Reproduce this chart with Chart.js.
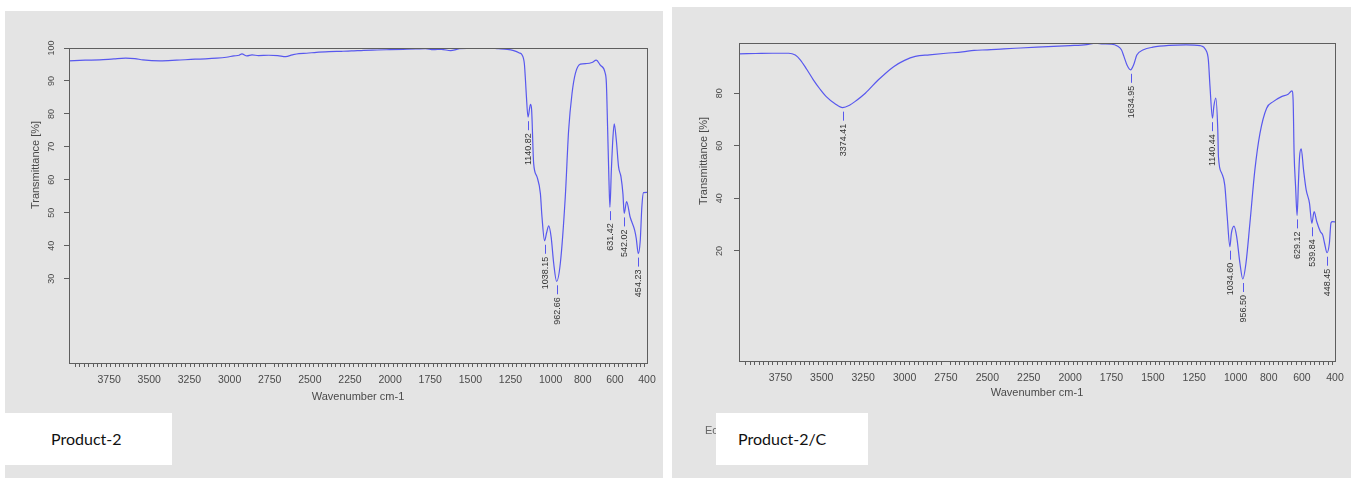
<!DOCTYPE html>
<html>
<head>
<meta charset="utf-8">
<title>FTIR - Product-2 / Product-2/C</title>
<script src="https://cdn.jsdelivr.net/npm/chart.js@4.4.1/dist/chart.umd.min.js"></script>
<style>
  html, body { margin: 0; padding: 0; background: #fff; }
  body { width: 1351px; height: 478px; position: relative; overflow: hidden; }
  .panel { position: absolute; background: #e4e4e4; }
  .panel canvas { display: block; }
  .tag { position: absolute; background: #fff; height: 52px; line-height: 52px;
         font-family: Lato, "Open Sans", sans-serif; font-size: 16px; color: #111; }
  .ec { position: absolute; font: 11px "Liberation Sans", Arial, sans-serif; color: #666; }
</style>
</head>
<body>
<div class="panel" style="left:5px;top:11px;width:658px;height:467px"><canvas id="chartP2" width="658" height="467"></canvas></div>
<div class="panel" style="left:672px;top:7px;width:679px;height:471px"><canvas id="chartP2C" width="679" height="471"></canvas></div>
<div class="tag" style="left:5px;top:413px;width:121px;padding-left:46px">Product-2</div>
<div class="ec" style="left:705px;top:424px">Ec</div>
<div class="tag" style="left:716px;top:413px;width:130px;padding-left:22px">Product-2/C</div>

<script>
// labelled wavenumbers on the x axis
const xTickLabels = [3750, 3500, 3250, 3000, 2750, 2500, 2250, 2000, 1750, 1500, 1250, 1000, 800, 600, 400];

// Product-2 spectrum (wavenumber cm-1 / transmittance %)
const p2Wave = [4000, 3900, 3809, 3720, 3647, 3590, 3540, 3433, 3330, 3215, 3150, 3080, 3020, 2973, 2940, 2923,
  2892, 2860, 2820, 2756, 2700, 2650, 2610, 2568, 2520, 2459, 2380, 2300, 2240, 2164, 2080, 2000, 1920, 1840,
  1780, 1731, 1680, 1623, 1590, 1569, 1520, 1461, 1400, 1326, 1270, 1230, 1195, 1178, 1164, 1157, 1151, 1141,
  1126, 1119, 1106, 1085, 1064, 1054, 1038, 1025, 1012, 997, 981, 963, 940, 909, 888, 867, 846, 815, 774, 743,
  716, 691, 660, 653, 645, 637, 631, 622, 612, 604, 591, 577, 562, 550, 542, 527, 505, 477, 467, 454, 442, 432,
  422, 400];
const p2Trans = [96.1, 96.3, 96.4, 96.7, 96.9, 96.8, 96.4, 96.1, 96.3, 96.6, 96.7, 96.9, 97.2, 97.6, 97.8, 98.2,
  97.6, 97.9, 97.7, 97.8, 97.7, 97.4, 97.9, 98.3, 98.4, 98.7, 98.9, 99.0, 99.1, 99.3, 99.4, 99.5, 99.6, 99.7,
  99.8, 99.5, 99.6, 99.2, 99.5, 99.8, 99.9, 99.9, 100.0, 99.8, 99.6, 99.2, 98.5, 97.9, 95.3, 90.3, 85.2, 79.0,
  82.9, 81.5, 65.0, 60.9, 55.8, 48.7, 41.5, 44.0, 46.0, 42.6, 34.6, 29.2, 34.6, 54.8, 75.1, 86.2, 92.3, 95.1,
  95.3, 95.6, 96.3, 94.8, 92.3, 89.3, 75.1, 59.9, 51.7, 62.9, 73.0, 77.0, 72.0, 63.9, 60.9, 55.8, 49.8, 53.4,
  48.7, 44.7, 42.2, 37.6, 41.6, 51.8, 56.1, 56.2];
const p2PeakWave = [1140.82, 1038.15, 962.66, 631.42, 542.02, 454.23];
const p2PeakTrans = [79.0, 41.5, 29.2, 51.7, 49.8, 37.6];
const p2YTicks = [100, 90, 80, 70, 60, 50, 40, 30];

// Product-2/C spectrum
const p2cWave = [4000, 3900, 3800, 3700, 3660, 3630, 3590, 3551, 3510, 3473, 3420, 3374, 3330, 3300, 3237, 3158,
  3066, 3000, 2935, 2850, 2750, 2650, 2580, 2500, 2400, 2300, 2200, 2100, 2000, 1900, 1845, 1800, 1750, 1715,
  1690, 1675, 1655, 1635, 1615, 1597, 1557, 1500, 1400, 1300, 1215, 1181, 1165, 1155, 1140, 1132, 1120, 1108,
  1104, 1084, 1066, 1051, 1035, 1026, 1010, 994, 974, 957, 938, 914, 884, 853, 813, 773, 723, 683, 660, 653,
  647, 638, 629, 621, 614, 604, 590, 574, 554, 540, 526, 510, 488, 474, 463, 448, 434, 424, 414, 400];
const p2cTrans = [95.0, 95.1, 95.2, 95.2, 94.5, 92.7, 89.0, 85.1, 81.5, 78.7, 76.0, 74.5, 75.5, 76.8, 80.0, 85.1,
  90.1, 92.5, 94.0, 94.6, 95.2, 95.7, 96.3, 96.5, 96.9, 97.2, 97.5, 97.8, 98.1, 98.5, 99.0, 98.8, 98.7, 98.0,
  96.5, 94.0, 90.5, 88.9, 91.0, 94.5, 96.5, 97.5, 98.2, 98.4, 98.1, 96.5, 92.7, 82.5, 70.5, 74.9, 78.1, 66.0,
  55.8, 49.5, 45.1, 33.0, 21.6, 26.7, 29.4, 25.4, 15.2, 9.3, 15.2, 30.5, 50.8, 64.8, 74.3, 76.8, 78.7, 79.6,
  80.9, 77.4, 57.1, 44.4, 33.5, 45.7, 55.8, 58.8, 50.8, 43.2, 38.1, 30.5, 34.9, 31.1, 27.3, 26.0, 22.9, 19.3,
  22.9, 30.7, 31.1, 31.0];
const p2cPeakWave = [3374.41, 1634.95, 1140.44, 1034.60, 956.50, 629.12, 539.84, 448.45];
const p2cPeakTrans = [74.5, 88.9, 70.5, 21.6, 9.3, 33.5, 30.5, 19.3];
const p2cYTicks = [80, 60, 40, 20];

const LINE_BLUE = '#5858ee';
const AXIS_GREY = '#5e5e5e';
const TEXT_GREY = '#4a4a4a';
const FONT = '"Liberation Sans", Arial, sans-serif';

Chart.defaults.font.family = FONT;

// small unlabelled tick marks along the wavenumber axis (skip the labelled spots)
const minorTicks = [];
for (let w = 3960; w >= 400; w -= 27.5) {
  if (!xTickLabels.includes(w)) minorTicks.push(w);
}

// frame, peak markers and the off-centre y title
const spectrumMarks = {
  id: 'spectrumMarks',
  afterDraw(chart, args, opts) {
    const { ctx, chartArea: area, scales: { x, y } } = chart;
    ctx.save();
    ctx.strokeStyle = AXIS_GREY;
    ctx.lineWidth = 1;
    ctx.strokeRect(Math.round(area.left) + 0.5, Math.round(area.top) + 0.5,
      Math.round(area.right - area.left), Math.round(area.bottom - area.top));

    ctx.font = '9px ' + FONT;
    ctx.fillStyle = '#333';
    ctx.strokeStyle = LINE_BLUE;
    opts.peaks.forEach((w, i) => {
      const px = Math.round(x.getPixelForValue(w)) + 0.5;
      const py = y.getPixelForValue(opts.peakTrans[i]);
      ctx.beginPath();
      ctx.moveTo(px, py + 4);
      ctx.lineTo(px, py + 13);
      ctx.stroke();
      ctx.save();
      ctx.translate(px, py + 16);
      ctx.rotate(-Math.PI / 2);
      ctx.textAlign = 'right';
      ctx.textBaseline = 'middle';
      ctx.fillText(w.toFixed(2), 0, 0);
      ctx.restore();
    });

    ctx.translate(area.left - opts.titleGap, y.getPixelForValue(opts.titleAt));
    ctx.rotate(-Math.PI / 2);
    ctx.font = '11px ' + FONT;
    ctx.fillStyle = TEXT_GREY;
    ctx.textAlign = 'center';
    ctx.textBaseline = 'middle';
    ctx.fillText('Transmittance [%]', 0, 0);
    ctx.restore();
  }
};

function spectrumChart(canvasId, cfg) {
  const ctx = document.getElementById(canvasId).getContext('2d');
  const xTicks = minorTicks.concat(xTickLabels);
  return new Chart(ctx, {
    type: 'line',
    data: {
      datasets: [{
        data: cfg.wave.map((w, i) => ({ x: w, y: cfg.trans[i] })),
        borderColor: LINE_BLUE,
        borderWidth: 1.2,
        pointRadius: 0,
        fill: false,
        cubicInterpolationMode: 'monotone'
      }]
    },
    options: {
      responsive: false,
      animation: false,
      layout: { padding: cfg.padding },
      plugins: {
        legend: { display: false },
        tooltip: { enabled: false },
        spectrumMarks: { peaks: cfg.peaks, peakTrans: cfg.peakTrans, titleAt: cfg.titleAt, titleGap: cfg.titleGap }
      },
      scales: {
        x: {
          type: 'linear',
          reverse: true,
          min: 400,
          max: 4000,
          afterBuildTicks: s => { s.ticks = xTicks.map(v => ({ value: v })); },
          afterFit: s => { s.height = 45; },
          ticks: {
            autoSkip: false, maxRotation: 0, minRotation: 0, padding: 7,
            color: TEXT_GREY, font: { size: 10.5 },
            callback: v => xTickLabels.includes(v) ? String(v) : ''
          },
          grid: {
            drawOnChartArea: false, tickLength: 4, lineWidth: 1,
            tickColor: c => (c.tick && xTickLabels.includes(c.tick.value)) ? 'rgba(0,0,0,0)' : AXIS_GREY
          },
          border: { display: false },
          title: {
            display: true, text: 'Wavenumber cm-1', color: TEXT_GREY,
            font: { size: 11 }, padding: { top: 0, bottom: cfg.xTitlePad }
          }
        },
        y: {
          min: cfg.yMin,
          max: cfg.yMax,
          afterBuildTicks: s => { s.ticks = cfg.yTicks.map(v => ({ value: v })); },
          afterFit: s => { s.width = 40; },
          ticks: {
            autoSkip: false, minRotation: 90, maxRotation: 90, crossAlign: 'center',
            padding: cfg.yTickPad, color: TEXT_GREY, font: { size: 9 }
          },
          grid: { drawOnChartArea: false, tickLength: 5, tickColor: AXIS_GREY },
          border: { display: false }
        }
      }
    },
    plugins: [spectrumMarks]
  });
}

document.addEventListener('DOMContentLoaded', function () {
  spectrumChart('chartP2', {
    wave: p2Wave, trans: p2Trans, peaks: p2PeakWave, peakTrans: p2PeakTrans, yTicks: p2YTicks,
    yMin: 4.4, yMax: 100,
    padding: { left: 24, top: 37, right: 16, bottom: 70 },
    yTickPad: 5, xTitlePad: 4, titleAt: 64.5, titleGap: 33
  });
  spectrumChart('chartP2C', {
    wave: p2cWave, trans: p2cTrans, peaks: p2cPeakWave, peakTrans: p2cPeakTrans, yTicks: p2cYTicks,
    yMin: -21.9, yMax: 99.1,
    padding: { left: 27, top: 36, right: 16, bottom: 72 },
    yTickPad: 9, xTitlePad: 6, titleAt: 54.2, titleGap: 35
  });
});
</script>
</body>
</html>
